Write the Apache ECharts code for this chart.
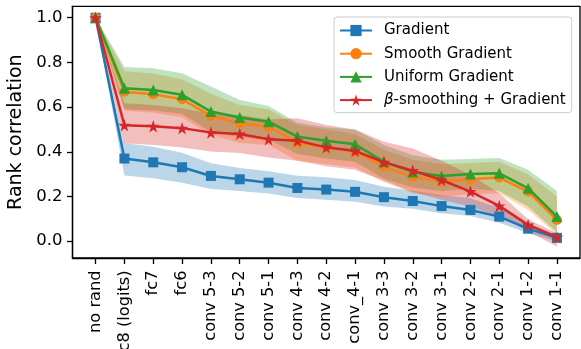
<!DOCTYPE html>
<html><head><meta charset="utf-8">
<script src="https://cdn.jsdelivr.net/npm/echarts@6/dist/echarts.min.js"></script>
<style>html,body{margin:0;padding:0;background:#fff}#c{width:581px;height:349px}</style>
</head><body><div id="c"></div>
<script>
const categories = ['no rand','fc8 (logits)','fc7','fc6','conv 5-3','conv 5-2','conv 5-1','conv 4-3','conv 4-2','conv_4-1','conv 3-3','conv 3-2','conv 3-1','conv 2-2','conv 2-1','conv 1-2','conv 1-1'];
const yTicks = [0.0, 0.2, 0.4, 0.6, 0.8, 1.0];

const gradient      = [1.0, 0.370, 0.353, 0.331, 0.292, 0.277, 0.262, 0.238, 0.231, 0.221, 0.197, 0.180, 0.157, 0.140, 0.110, 0.056, 0.015];
const gradientLow   = [1.0, 0.294, 0.282, 0.262, 0.234, 0.225, 0.213, 0.193, 0.185, 0.176, 0.155, 0.145, 0.125, 0.113, 0.083, 0.036, 0.000];
const gradientHigh  = [1.0, 0.440, 0.423, 0.396, 0.349, 0.328, 0.313, 0.293, 0.286, 0.274, 0.244, 0.226, 0.207, 0.192, 0.148, 0.080, 0.030];

const smooth        = [1.0, 0.669, 0.658, 0.635, 0.561, 0.528, 0.513, 0.441, 0.420, 0.401, 0.334, 0.288, 0.267, 0.277, 0.285, 0.222, 0.095];
const smoothLow     = [1.0, 0.585, 0.575, 0.555, 0.475, 0.440, 0.430, 0.360, 0.345, 0.330, 0.265, 0.215, 0.200, 0.210, 0.215, 0.140, 0.030];
const smoothHigh    = [1.0, 0.760, 0.750, 0.725, 0.660, 0.610, 0.590, 0.520, 0.500, 0.480, 0.410, 0.365, 0.345, 0.350, 0.355, 0.300, 0.200];

const uniform       = [1.0, 0.685, 0.677, 0.655, 0.580, 0.554, 0.535, 0.468, 0.450, 0.434, 0.355, 0.310, 0.292, 0.301, 0.304, 0.237, 0.110];
const uniformLow    = [1.0, 0.590, 0.585, 0.570, 0.490, 0.465, 0.455, 0.390, 0.370, 0.355, 0.280, 0.240, 0.225, 0.235, 0.225, 0.155, 0.040];
const uniformHigh   = [1.0, 0.780, 0.774, 0.752, 0.692, 0.632, 0.605, 0.530, 0.510, 0.500, 0.430, 0.385, 0.365, 0.368, 0.372, 0.320, 0.225];

const beta          = [1.0, 0.519, 0.514, 0.506, 0.486, 0.480, 0.456, 0.450, 0.420, 0.404, 0.353, 0.316, 0.274, 0.222, 0.158, 0.073, 0.018];
const betaLow       = [1.0, 0.438, 0.431, 0.419, 0.401, 0.395, 0.375, 0.360, 0.335, 0.320, 0.270, 0.220, 0.185, 0.155, 0.110, 0.043, -0.024];
const betaHigh      = [1.0, 0.617, 0.610, 0.595, 0.570, 0.565, 0.545, 0.550, 0.520, 0.500, 0.445, 0.415, 0.360, 0.297, 0.215, 0.098, 0.036];

const names = ['Gradient', 'Smooth Gradient', 'Uniform Gradient', 'β-smoothing + Gradient'];
const colors = ['#1f77b4', '#ff7f0e', '#2ca02c', '#d62728'];

// star symbol path
function starPath() {
  const pts = [];
  for (let k = 0; k < 10; k++) {
    const r = k % 2 === 0 ? 1 : 0.382;
    const a = -Math.PI / 2 + k * Math.PI / 5;
    pts.push((r * Math.cos(a)).toFixed(4) + ',' + (r * Math.sin(a)).toFixed(4));
  }
  return 'path://M' + pts.join('L') + 'Z';
}

function toXY(arr) { return arr.map((v, i) => [i, v]); }

function band(lower, upper, color) {
  return {
    type: 'custom', silent: true, z: 1, clip: true,
    data: [[0, lower[0]]],
    renderItem: function (params, api) {
      const pts = [];
      for (let i = 0; i < upper.length; i++) pts.push(api.coord([i, upper[i]]));
      for (let i = lower.length - 1; i >= 0; i--) pts.push(api.coord([i, lower[i]]));
      return { type: 'polygon', shape: { points: pts }, style: { fill: color, opacity: 0.3 } };
    }
  };
}

function line(name, values, color, symbol, size, z) {
  return {
    type: 'line', name: name, data: toXY(values), z: z,
    symbol: symbol, symbolSize: size, showAllSymbol: true,
    lineStyle: { color: color, width: 2.5 },
    itemStyle: { color: color, borderWidth: 0 },
    emphasis: { disabled: true }
  };
}

const font = 'DejaVu Sans';
const chart = echarts.init(document.getElementById('c'), null, { renderer: 'canvas' });
chart.setOption({
  animation: false,
  textStyle: { fontFamily: font, color: '#000' },
  grid: { left: 72.5, right: 1, top: 6.3, bottom: 91, outerBoundsMode: 'none', containLabel: false,
    show: true, borderColor: '#000', borderWidth: 1.3, backgroundColor: 'transparent' },
  legend: {
    orient: 'vertical', left: 334, top: 17,
    data: names,
    itemWidth: 32, itemHeight: 14, itemGap: 8.2,
    padding: [6, 6, 5, 5],
    borderColor: '#cccccc', borderWidth: 1, borderRadius: 3,
    backgroundColor: 'rgba(255,255,255,0.8)',
    textStyle: { fontFamily: font, fontSize: 15, color: '#000', padding: [0, 0, 0, 7],
      rich: { i: { fontFamily: font, fontSize: 15, fontStyle: 'italic', color: '#000' } } },
    formatter: function (n) { return n.indexOf('β') === 0 ? '{i|β}-smoothing + Gradient' : n; }
  },
  xAxis: {
    type: 'value', min: -0.8, max: 16.8,
    splitLine: { show: false },
    axisLine: { show: true, onZero: false, lineStyle: { color: '#000', width: 1.3 } },
    axisTick: { show: true, length: 6, lineStyle: { color: '#000', width: 1.3 }, customValues: categories.map((c, i) => i) },
    axisLabel: { customValues: categories.map((c, i) => i), rotate: 90, margin: 12.5, fontSize: 16.2, fontFamily: font, color: '#000',
      hideOverlap: false, formatter: function (v) { return categories[Math.round(v)]; } }
  },
  yAxis: {
    type: 'value', min: -0.0752, max: 1.0512,
    name: 'Rank correlation', nameLocation: 'middle', nameGap: 43,
    nameTextStyle: { fontSize: 19, fontFamily: font, color: '#000' },
    splitLine: { show: false },
    axisLine: { show: true, onZero: false, lineStyle: { color: '#000', width: 1.3 } },
    axisTick: { show: true, length: 5.5, lineStyle: { color: '#000', width: 1.3 }, customValues: yTicks },
    axisLabel: { customValues: yTicks, margin: 10, fontSize: 16.5, fontFamily: font, color: '#000',
      formatter: function (v) { return v.toFixed(1); } }
  },
  series: [
    band(gradientLow, gradientHigh, colors[0]),
    band(smoothLow, smoothHigh, colors[1]),
    band(uniformLow, uniformHigh, colors[2]),
    band(betaLow, betaHigh, colors[3]),
    line(names[0], gradient, colors[0], 'rect', 10, 2),
    line(names[1], smooth, colors[1], 'circle', 10, 3),
    line(names[2], uniform, colors[2], 'triangle', 11, 4),
    line(names[3], beta, colors[3], starPath(), 12.5, 5)
  ]
});
</script>
</body></html>
